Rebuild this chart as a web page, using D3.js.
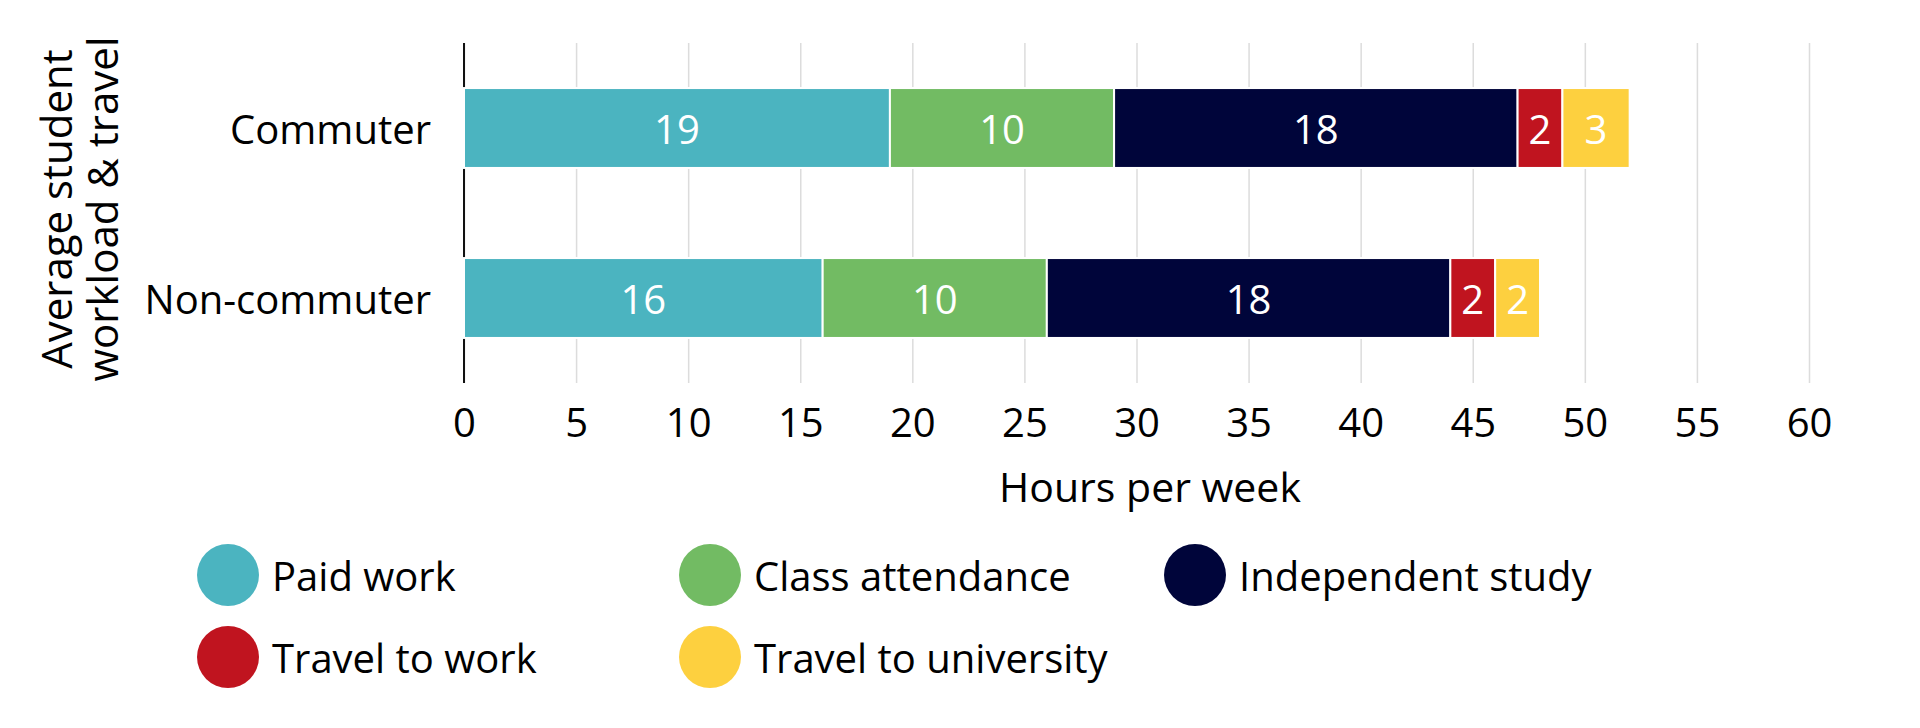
<!DOCTYPE html>
<html lang="en">
<head>
<meta charset="UTF-8">
<title>Student workload</title>
<script src="https://cdn.jsdelivr.net/npm/d3@7"></script>
<style>
  body { margin: 0; background: #fff; }
  svg text { font-family: "Open Sans", "Noto Sans", sans-serif; fill: #000; }
</style>
</head>
<body>
<svg id="chart" width="1920" height="728"></svg>
<script>
// data
const groups = ["Commuter", "Non-commuter"];
const activities = ["Paid work", "Class attendance", "Independent study", "Travel to work", "Travel to university"];
const colours = ["#4bb4c0", "#72bb63", "#00053a", "#c0141f", "#fdd03f"];
const paidWork = [19, 16];
const classAttendance = [10, 10];
const independentStudy = [18, 18];
const travelToWork = [2, 2];
const travelToUni = [3, 2];
const xTicks = [0, 5, 10, 15, 20, 25, 30, 35, 40, 45, 50, 55, 60];

const series = [paidWork, classAttendance, independentStudy, travelToWork, travelToUni];
const rows = groups.map((g, i) => {
  const r = { group: g };
  activities.forEach((a, j) => r[a] = series[j][i]);
  return r;
});

const svg = d3.select("#chart");
const plotLeft = 464, plotRight = 1809, plotTop = 43, plotBottom = 383;

const x = d3.scaleLinear().domain([0, 60]).range([plotLeft, plotRight]);
const y = d3.scaleBand().domain(groups).range([plotTop, plotBottom]).paddingInner(0.53).paddingOuter(0.265);
const colour = d3.scaleOrdinal().domain(activities).range(colours);

// grid + tick labels
const xAxis = svg.append("g")
  .attr("transform", `translate(0,${plotBottom})`)
  .call(d3.axisBottom(x).tickValues(xTicks).tickSize(-(plotBottom - plotTop)).tickPadding(26));
xAxis.select(".domain").remove();
xAxis.selectAll(".tick line").attr("stroke", "#dcdcdc").attr("stroke-width", 1.5);
xAxis.selectAll(".tick text").attr("font-size", 40).attr("font-family", null);
xAxis.attr("font-family", null).attr("font-size", null);

// zero line
svg.append("line")
  .attr("x1", x(0)).attr("x2", x(0))
  .attr("y1", plotTop).attr("y2", plotBottom)
  .attr("stroke", "#111").attr("stroke-width", 2);

// stacked bars
const stacked = d3.stack().keys(activities)(rows);
const layer = svg.append("g").selectAll("g")
  .data(stacked)
  .join("g")
  .attr("fill", d => colour(d.key));

layer.selectAll("rect")
  .data(d => d)
  .join("rect")
  .attr("x", d => x(d[0]))
  .attr("y", d => y(d.data.group))
  .attr("width", d => x(d[1]) - x(d[0]))
  .attr("height", y.bandwidth())
  .attr("stroke", "#fff")
  .attr("stroke-width", 2);

layer.selectAll("text")
  .data(d => d)
  .join("text")
  .attr("x", d => (x(d[0]) + x(d[1])) / 2)
  .attr("y", d => y(d.data.group) + y.bandwidth() / 2)
  .attr("text-anchor", "middle")
  .attr("dominant-baseline", "central")
  .attr("font-size", 40)
  .style("fill", "#fff")
  .text(d => d[1] - d[0]);

// category labels
svg.append("g").selectAll("text")
  .data(groups)
  .join("text")
  .attr("x", 431)
  .attr("y", d => y(d) + y.bandwidth() / 2)
  .attr("text-anchor", "end")
  .attr("dominant-baseline", "central")
  .attr("font-size", 40)
  .text(d => d);

// y title
const yTitle = svg.append("text")
  .attr("transform", `translate(0,${(plotTop + plotBottom) / 2 - 4}) rotate(-90)`)
  .attr("text-anchor", "middle")
  .attr("font-size", 42);
yTitle.append("tspan").attr("x", 0).attr("y", 72).text("Average student");
yTitle.append("tspan").attr("x", 0).attr("y", 118).text("workload & travel");

// x title
svg.append("text")
  .attr("x", 1150).attr("y", 502)
  .attr("text-anchor", "middle")
  .attr("font-size", 41)
  .text("Hours per week");

// legend
const legX = [228, 710, 1195];
const legY = [575, 657];
const legend = svg.append("g").selectAll("g")
  .data(activities)
  .join("g")
  .attr("transform", (d, i) => `translate(${legX[i % 3]},${legY[Math.floor(i / 3)]})`);
legend.append("circle").attr("r", 31).attr("fill", d => colour(d));
legend.append("text")
  .attr("x", 44)
  .attr("dominant-baseline", "central")
  .attr("font-size", 40)
  .text(d => d);
</script>
</body>
</html>
